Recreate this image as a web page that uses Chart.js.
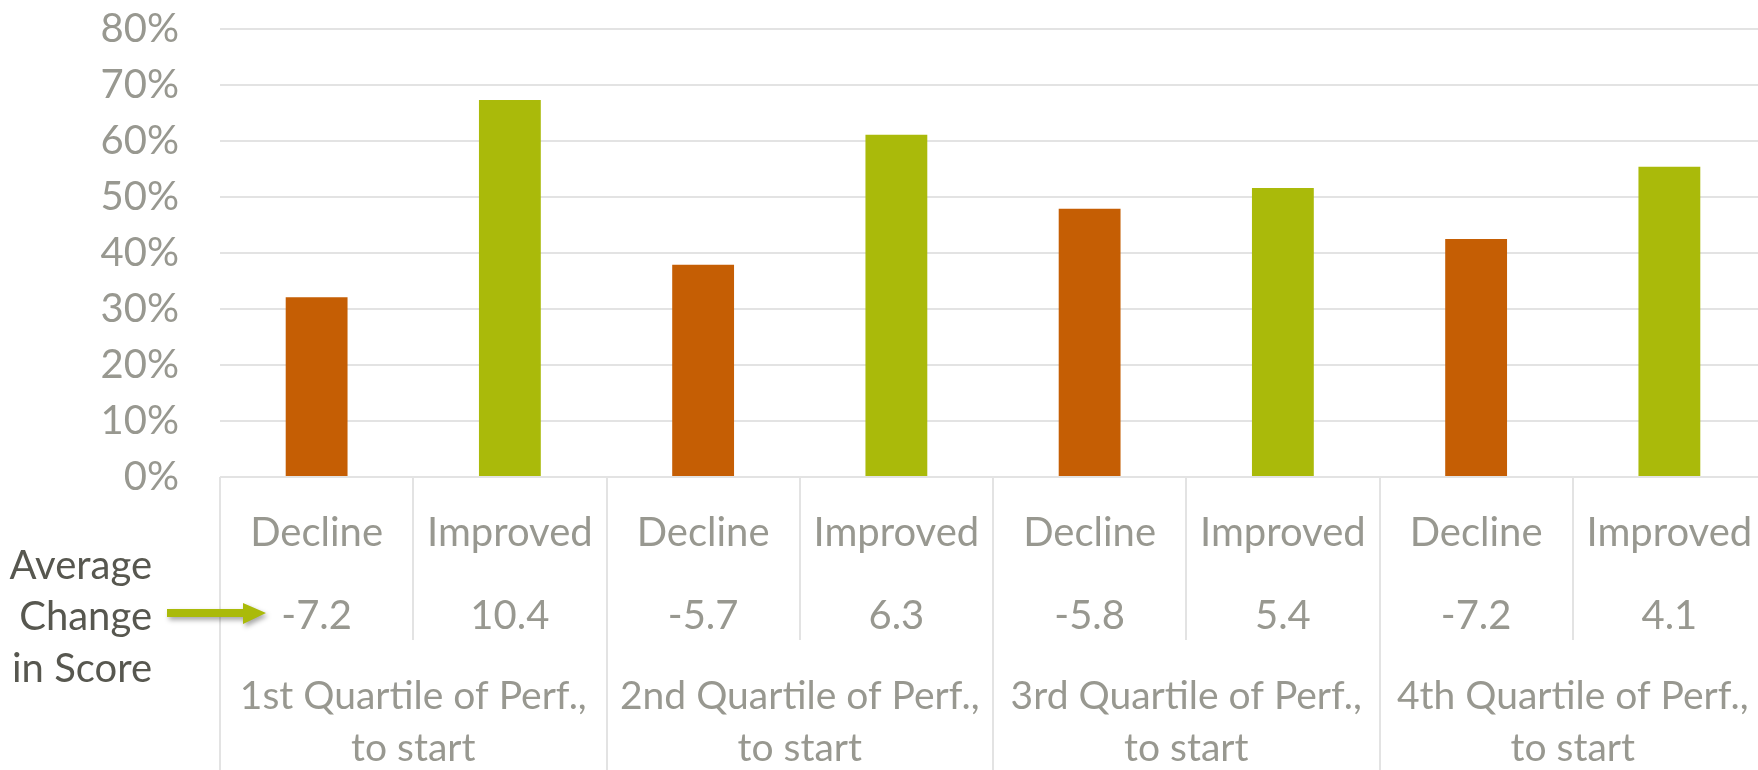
<!DOCTYPE html>
<html>
<head>
<meta charset="utf-8">
<title>Share of Decline / Improved by Quartile</title>
<script src="https://cdn.jsdelivr.net/npm/chart.js"></script>
<style>
  html, body { margin: 0; padding: 0; overflow: hidden; background: #fff; }
  canvas { display: block; }
</style>
</head>
<body>
<canvas id="scoreChart" width="1766" height="770"></canvas>
<script>
// values
const outcomes = ['Decline', 'Improved', 'Decline', 'Improved', 'Decline', 'Improved', 'Decline', 'Improved'];
const avgChange = ['-7.2', '10.4', '-5.7', '6.3', '-5.8', '5.4', '-7.2', '4.1'];
const shares = [32.1, 67.3, 37.9, 61.1, 47.9, 51.6, 42.5, 55.4];
const quartiles = ['1st Quartile of Perf.,', '2nd Quartile of Perf.,', '3rd Quartile of Perf.,', '4th Quartile of Perf.,'];
const yTicks = [0, 10, 20, 30, 40, 50, 60, 70, 80];
const sideLabel = ['Average', 'Change', 'in Score'];

const orange = '#c55e04';
const green = '#aaba0a';
const labelGray = '#989890';
const lineGray = '#e3e3e3';

// the "Average Change in Score" note and its arrow, left of the axis
const sideNote = {
    id: 'sideNote',
    afterDraw(chart) {
        const ctx = chart.ctx;
        ctx.save();
        ctx.font = '40px Lato';
        ctx.fillStyle = '#57574f';
        ctx.textAlign = 'right';
        ctx.textBaseline = 'middle';
        sideLabel.forEach((t, i) => ctx.fillText(t, 152, 566 + i * 51.5));

        ctx.shadowColor = 'rgba(0,0,0,0.35)';
        ctx.shadowBlur = 5;
        ctx.shadowOffsetX = 2;
        ctx.shadowOffsetY = 3;
        ctx.fillStyle = green;
        ctx.beginPath();
        ctx.moveTo(167, 609);
        ctx.lineTo(243, 609);
        ctx.lineTo(243, 603);
        ctx.lineTo(266, 613);
        ctx.lineTo(243, 624);
        ctx.lineTo(243, 617);
        ctx.lineTo(167, 617);
        ctx.closePath();
        ctx.fill();
        ctx.restore();
    }
};

const ctx = document.getElementById('scoreChart').getContext('2d');
const chart = new Chart(ctx, {
    type: 'bar',
    data: {
        labels: outcomes.map((o, i) => [o, avgChange[i]]),
        datasets: [{
            data: shares,
            backgroundColor: outcomes.map(o => o === 'Decline' ? orange : green),
            barPercentage: 0.32,
            categoryPercentage: 1,
        }],
    },
    options: {
        responsive: false,
        animation: false,
        layout: { padding: { top: 29, left: 0, right: 0, bottom: 0 } },
        plugins: {
            legend: { display: false },
            tooltip: { enabled: false },
        },
        scales: {
            y: {
                min: 0,
                max: 80,
                afterBuildTicks: s => { s.ticks = yTicks.map(v => ({ value: v })); },
                afterFit: s => { s.width = 220; },
                // invisible tick marks make the gap between labels and plot
                grid: { color: lineGray, lineWidth: 2, drawTicks: true, tickLength: 41, tickColor: 'rgba(0,0,0,0)' },
                border: { display: false },
                ticks: {
                    padding: 0,
                    color: labelGray,
                    font: { family: 'Lato', size: 40 },
                    callback: v => v + '%',
                },
            },
            x: {
                position: 'bottom',
                weight: 0,
                offset: true,
                afterFit: s => { s.height = 163; },
                grid: { offset: true, drawOnChartArea: false, tickLength: 163, color: lineGray, lineWidth: 2 },
                border: { display: false },
                ticks: {
                    autoSkip: false,
                    maxRotation: 0,
                    padding: -149,
                    color: labelGray,
                    font: { family: 'Lato', size: 40, lineHeight: '83.7px' },
                },
            },
            xq: {
                type: 'category',
                position: 'bottom',
                weight: 1,
                offset: true,
                labels: quartiles.map(q => [q, 'to start']),
                afterFit: s => { s.height = 130; },
                grid: { offset: true, drawOnChartArea: false, tickLength: 130, color: lineGray, lineWidth: 2 },
                border: { display: false },
                ticks: {
                    autoSkip: false,
                    maxRotation: 0,
                    padding: -100,
                    color: labelGray,
                    font: { family: 'Lato', size: 39, lineHeight: '52px' },
                },
            },
        },
    },
    plugins: [sideNote],
});
</script>
</body>
</html>
